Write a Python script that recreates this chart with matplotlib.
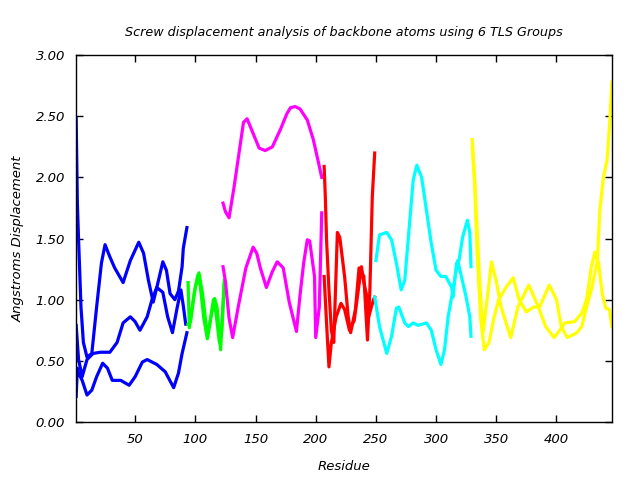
import matplotlib
matplotlib.use('agg')
import matplotlib.pyplot as plt

# group 1 (blue), residues 1-93
b1_x = [1, 2, 3, 4, 5, 7, 10, 14, 18, 22, 25, 29, 33, 40, 46, 53, 57, 61, 65, 68, 73, 76, 79, 83, 86, 89, 90, 93]
b1_y = [2.49, 1.79, 1.49, 1.22, 0.94, 0.65, 0.53, 0.56, 0.94, 1.30, 1.45, 1.35, 1.26, 1.14, 1.32, 1.47, 1.38, 1.16, 0.98, 1.10, 1.31, 1.24, 1.05, 1.00, 1.07, 1.27, 1.42, 1.59]
b2_x = [1, 3, 6, 10, 15, 21, 29, 35, 40, 46, 50, 54, 60, 64, 68, 73, 77, 81, 85, 88, 90, 92]
b2_y = [0.79, 0.51, 0.37, 0.51, 0.56, 0.57, 0.57, 0.65, 0.81, 0.86, 0.82, 0.75, 0.86, 1.00, 1.10, 1.06, 0.86, 0.73, 0.94, 1.08, 0.95, 0.80]
b3_x = [1, 2, 3, 6, 10, 14, 18, 23, 27, 31, 38, 45, 50, 56, 60, 68, 75, 82, 86, 89, 93]
b3_y = [0.21, 0.44, 0.40, 0.34, 0.22, 0.26, 0.37, 0.48, 0.44, 0.34, 0.34, 0.30, 0.37, 0.49, 0.51, 0.47, 0.41, 0.28, 0.40, 0.56, 0.73]

# group 2 (green), residues 94-124
g1_x = [94, 95, 98, 100, 103, 106, 110, 113, 116, 118, 121, 124]
g1_y = [1.14, 0.77, 0.97, 1.10, 1.22, 1.05, 0.70, 0.86, 1.01, 0.94, 0.59, 1.16]
g2_x = [94, 96, 99, 102, 104, 107, 110, 112, 115, 117, 120, 122, 124]
g2_y = [0.80, 0.82, 1.05, 1.20, 1.12, 0.85, 0.68, 0.80, 1.00, 0.90, 0.65, 0.75, 1.12]

# group 3 (magenta), residues 123-205
m1_x = [123, 125, 128, 132, 136, 140, 143, 148, 153, 158, 164, 171, 176, 179, 183, 187, 193, 198, 203, 205]
m1_y = [1.79, 1.72, 1.67, 1.91, 2.18, 2.45, 2.48, 2.36, 2.24, 2.22, 2.25, 2.40, 2.52, 2.57, 2.58, 2.56, 2.47, 2.31, 2.09, 2.00]
m2_x = [123, 125, 128, 131, 136, 142, 148, 151, 154, 159, 164, 168, 173, 178, 184, 187, 190, 193, 195, 199, 200, 203, 205]
m2_y = [1.27, 1.15, 0.85, 0.69, 0.96, 1.26, 1.43, 1.38, 1.26, 1.10, 1.23, 1.31, 1.26, 0.98, 0.74, 1.04, 1.30, 1.49, 1.48, 1.19, 0.69, 0.94, 1.71]

# group 4 (red), residues 206-249
r1_x = [207, 208, 209, 211, 213, 215, 218, 220, 224, 227, 229, 233, 236, 240, 243, 245, 247, 249]
r1_y = [2.09, 1.84, 1.49, 1.08, 0.75, 0.65, 1.55, 1.51, 1.19, 0.86, 0.73, 0.92, 1.26, 1.19, 0.67, 1.08, 1.84, 2.20]
r2_x = [207, 209, 211, 213, 217, 221, 224, 228, 232, 235, 238, 240, 242, 244, 248, 249]
r2_y = [1.19, 0.81, 0.45, 0.65, 0.86, 0.97, 0.92, 0.75, 0.83, 1.05, 1.27, 1.14, 1.05, 0.86, 1.00, 1.02]

# group 5 (cyan), residues 250-329
c1_x = [250, 253, 259, 263, 267, 271, 274, 278, 281, 284, 288, 292, 296, 300, 304, 308, 313, 314, 317, 319, 322, 326, 328, 329]
c1_y = [1.32, 1.53, 1.55, 1.49, 1.30, 1.08, 1.16, 1.63, 1.98, 2.10, 2.00, 1.73, 1.46, 1.24, 1.19, 1.19, 1.10, 1.02, 1.30, 1.32, 1.51, 1.65, 1.55, 1.27]
c2_x = [249, 253, 259, 263, 267, 269, 274, 277, 281, 285, 292, 296, 300, 304, 307, 310, 314, 318, 321, 325, 328, 329]
c2_y = [1.02, 0.78, 0.56, 0.70, 0.93, 0.94, 0.81, 0.78, 0.81, 0.79, 0.81, 0.75, 0.59, 0.47, 0.59, 0.86, 1.08, 1.32, 1.19, 1.02, 0.86, 0.70]

# group 6 (yellow), residues 330-446
y1_x = [330, 332, 334, 336, 339, 343, 346, 350, 354, 362, 368, 377, 385, 391, 398, 402, 407, 415, 421, 425, 429, 432, 435, 438, 441, 444, 446]
y1_y = [2.31, 2.00, 1.59, 1.19, 0.73, 1.05, 1.31, 1.15, 0.94, 0.69, 0.94, 1.12, 0.94, 0.78, 0.69, 0.74, 0.81, 0.82, 0.89, 1.00, 1.27, 1.39, 1.30, 1.05, 0.93, 0.92, 0.78]
y2_x = [330, 332, 334, 337, 340, 344, 348, 352, 358, 364, 369, 375, 381, 386, 394, 400, 404, 409, 417, 421, 425, 429, 434, 436, 439, 442, 444, 446]
y2_y = [2.25, 1.95, 1.40, 0.85, 0.59, 0.65, 0.85, 1.00, 1.10, 1.18, 1.00, 0.90, 0.94, 0.94, 1.12, 1.00, 0.78, 0.69, 0.73, 0.78, 0.94, 1.08, 1.32, 1.73, 2.00, 2.14, 2.41, 2.78]

groups = [
    ("#0000ff", [(b1_x, b1_y), (b2_x, b2_y), (b3_x, b3_y)]),
    ("#00ff00", [(g1_x, g1_y), (g2_x, g2_y)]),
    ("#ff00ff", [(m1_x, m1_y), (m2_x, m2_y)]),
    ("#ff0000", [(r1_x, r1_y), (r2_x, r2_y)]),
    ("#00ffff", [(c1_x, c1_y), (c2_x, c2_y)]),
    ("#ffff00", [(y1_x, y1_y), (y2_x, y2_y)]),
]

plt.rcParams['font.family'] = 'DejaVu Sans'
fig = plt.figure(figsize=(6.4, 4.8), dpi=100)
ax = fig.add_axes([0.119, 0.121, 0.837, 0.764])

for color, lines in groups:
    for xs, ys in lines:
        ax.plot(xs, ys, color=color, linewidth=2.3, solid_joinstyle='round')

ax.set_xlim(1, 446)
ax.set_ylim(0, 3)
ax.set_xticks([50, 100, 150, 200, 250, 300, 350, 400])
ax.set_yticks([0, 0.5, 1.0, 1.5, 2.0, 2.5, 3.0])
ax.set_yticklabels(["%.2f" % v for v in [0, 0.5, 1.0, 1.5, 2.0, 2.5, 3.0]])
ax.tick_params(direction='in', top=True, right=True, length=5, width=1,
               labelsize=9.5, pad=8, colors='black')
for lab in ax.get_xticklabels() + ax.get_yticklabels():
    lab.set_fontstyle('italic')
for s in ax.spines.values():
    s.set_linewidth(1)

ax.set_title("Screw displacement analysis of backbone atoms using 6 TLS Groups",
             fontsize=9.2, style='italic', pad=14)
ax.set_xlabel("Residue", fontsize=9.5, style='italic', labelpad=10)
ax.set_ylabel("Angstroms Displacement", fontsize=9.5, style='italic', labelpad=8)

fig.savefig("out.png", dpi=100)
